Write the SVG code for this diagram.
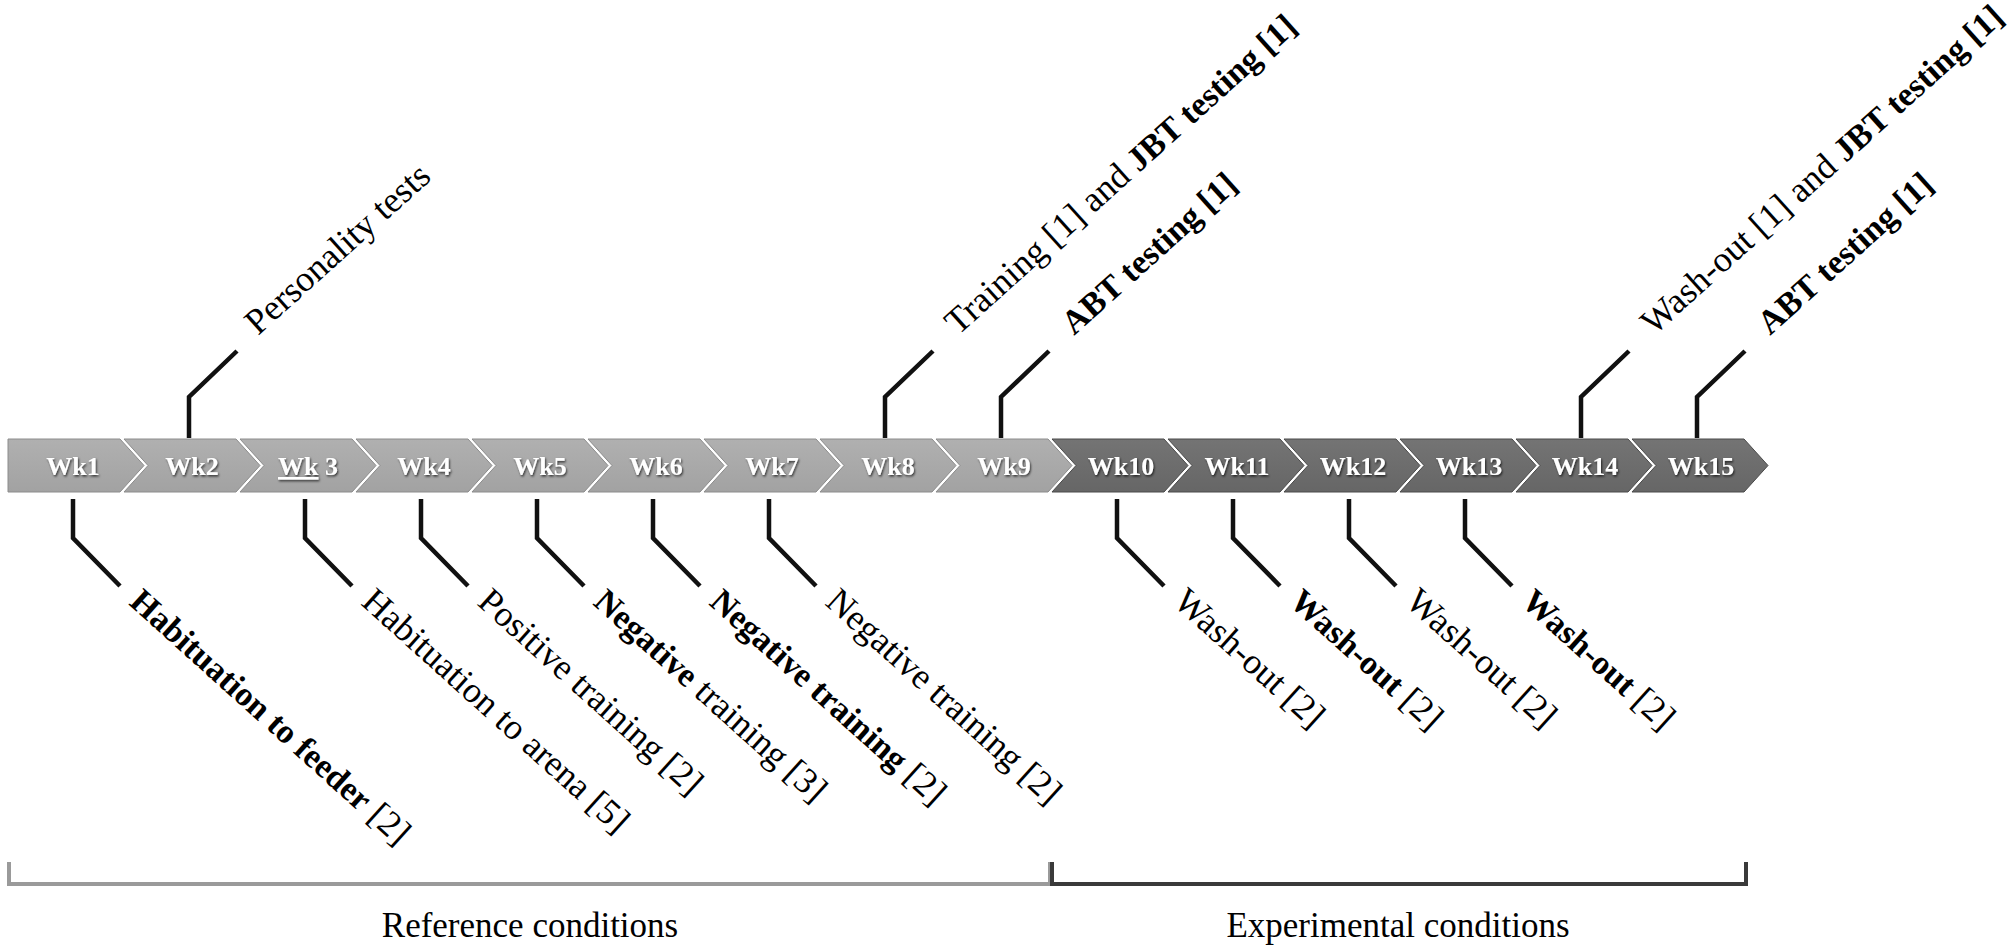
<svg xmlns="http://www.w3.org/2000/svg" width="2007" height="950" viewBox="0 0 2007 950">
<defs>
<linearGradient id="gLight" x1="0" y1="0" x2="0" y2="1">
<stop offset="0" stop-color="#b0b0b0"/><stop offset="1" stop-color="#a2a2a2"/>
</linearGradient>
<linearGradient id="gDark" x1="0" y1="0" x2="0" y2="1">
<stop offset="0" stop-color="#747474"/><stop offset="1" stop-color="#666666"/>
</linearGradient>
<filter id="sh" x="-20%" y="-30%" width="140%" height="160%">
<feDropShadow dx="1" dy="1.5" stdDeviation="1" flood-color="#000" flood-opacity="0.7"/>
</filter>
</defs>
<style>
.light{fill:url(#gLight);stroke:#8c8c8c;stroke-width:1}
.dark{fill:url(#gDark);stroke:#4a4a4a;stroke-width:1}
.wk{font-family:"Liberation Serif",serif;font-weight:bold;font-size:26px;fill:#fff;text-anchor:middle;filter:url(#sh)}
.lbl{font-family:"Liberation Serif",serif;font-size:36px;fill:#000}
.b{font-weight:bold;font-size:34px}
.call{fill:none;stroke:#111;stroke-width:4.5;stroke-linejoin:miter}
.cap{font-family:"Liberation Serif",serif;font-size:35px;fill:#000;text-anchor:middle}
</style>
<rect width="2007" height="950" fill="#fff"/>

<g id="wk1"><path class="light" d="M8,439 L120,439 L144,465.5 L120,492 L8,492 Z"/><text class="wk" x="73" y="475">Wk1</text></g>
<g id="wk2"><path class="light" d="M124,439 L236,439 L260,465.5 L236,492 L124,492 L148,465.5 Z"/><text class="wk" x="192" y="475">Wk2</text></g>
<g id="wk3"><path class="light" d="M240,439 L352,439 L376,465.5 L352,492 L240,492 L264,465.5 Z"/><text class="wk" x="308" y="475"><tspan text-decoration="underline">Wk</tspan> 3</text></g>
<g id="wk4"><path class="light" d="M356,439 L468,439 L492,465.5 L468,492 L356,492 L380,465.5 Z"/><text class="wk" x="424" y="475">Wk4</text></g>
<g id="wk5"><path class="light" d="M472,439 L584,439 L608,465.5 L584,492 L472,492 L496,465.5 Z"/><text class="wk" x="540" y="475">Wk5</text></g>
<g id="wk6"><path class="light" d="M588,439 L700,439 L724,465.5 L700,492 L588,492 L612,465.5 Z"/><text class="wk" x="656" y="475">Wk6</text></g>
<g id="wk7"><path class="light" d="M704,439 L816,439 L840,465.5 L816,492 L704,492 L728,465.5 Z"/><text class="wk" x="772" y="475">Wk7</text></g>
<g id="wk8"><path class="light" d="M820,439 L932,439 L956,465.5 L932,492 L820,492 L844,465.5 Z"/><text class="wk" x="888" y="475">Wk8</text></g>
<g id="wk9"><path class="light" d="M936,439 L1048,439 L1072,465.5 L1048,492 L936,492 L960,465.5 Z"/><text class="wk" x="1004" y="475">Wk9</text></g>
<g id="wk10"><path class="dark" d="M1052,439 L1164,439 L1188,465.5 L1164,492 L1052,492 L1076,465.5 Z"/><text class="wk" x="1121" y="475">Wk10</text></g>
<g id="wk11"><path class="dark" d="M1168,439 L1280,439 L1304,465.5 L1280,492 L1168,492 L1192,465.5 Z"/><text class="wk" x="1237" y="475">Wk11</text></g>
<g id="wk12"><path class="dark" d="M1284,439 L1396,439 L1420,465.5 L1396,492 L1284,492 L1308,465.5 Z"/><text class="wk" x="1353" y="475">Wk12</text></g>
<g id="wk13"><path class="dark" d="M1400,439 L1512,439 L1536,465.5 L1512,492 L1400,492 L1424,465.5 Z"/><text class="wk" x="1469" y="475">Wk13</text></g>
<g id="wk14"><path class="dark" d="M1516,439 L1628,439 L1652,465.5 L1628,492 L1516,492 L1540,465.5 Z"/><text class="wk" x="1585" y="475">Wk14</text></g>
<g id="wk15"><path class="dark" d="M1632,439 L1744,439 L1768,465.5 L1744,492 L1632,492 L1656,465.5 Z"/><text class="wk" x="1701" y="475">Wk15</text></g>

<g id="connectors">
<path class="call" d="M189,438 V397 L237,351"/>
<path class="call" d="M885,438 V397 L933,351"/>
<path class="call" d="M1001,438 V397 L1049,351"/>
<path class="call" d="M1581,438 V397 L1629,351"/>
<path class="call" d="M1697,438 V397 L1745,351"/>
<path class="call" d="M73,499 V538 L120,586"/>
<path class="call" d="M305,499 V538 L352,586"/>
<path class="call" d="M421,499 V538 L468,586"/>
<path class="call" d="M537,499 V538 L584,586"/>
<path class="call" d="M653,499 V538 L700,586"/>
<path class="call" d="M769,499 V538 L816,586"/>
<path class="call" d="M1117,499 V538 L1164,586"/>
<path class="call" d="M1233,499 V538 L1280,586"/>
<path class="call" d="M1349,499 V538 L1396,586"/>
<path class="call" d="M1465,499 V538 L1512,586"/>
</g>

<g id="top-labels">
<text class="lbl" transform="translate(258,336) rotate(-42)">Personality tests</text>
<text class="lbl" transform="translate(958,336) rotate(-42)">Training [1] and <tspan class="b">JBT testing [1]</tspan></text>
<text class="lbl b" transform="translate(1074,336) rotate(-42)">ABT testing [1]</text>
<text class="lbl" transform="translate(1654,336) rotate(-42)">Wash-out [1] and <tspan class="b">JBT testing [1]</tspan></text>
<text class="lbl b" transform="translate(1770,336) rotate(-42)">ABT testing [1]</text>
</g>

<g id="bottom-labels">
<text class="lbl" transform="translate(128,604) rotate(42)"><tspan class="b">Habituation to feeder</tspan> [2]</text>
<text class="lbl" transform="translate(360,604) rotate(42)">Habituation to arena [5]</text>
<text class="lbl" transform="translate(476,604) rotate(42)">Positive training [2]</text>
<text class="lbl" transform="translate(592,604) rotate(42)"><tspan class="b">Negative</tspan> training [3]</text>
<text class="lbl" transform="translate(708,604) rotate(42)"><tspan class="b">Negative training</tspan> [2]</text>
<text class="lbl" transform="translate(824,604) rotate(42)">Negative training [2]</text>
<text class="lbl" transform="translate(1172,604) rotate(42)">Wash-out [2]</text>
<text class="lbl" transform="translate(1288,604) rotate(42)"><tspan class="b">Wash-out</tspan> [2]</text>
<text class="lbl" transform="translate(1404,604) rotate(42)">Wash-out [2]</text>
<text class="lbl" transform="translate(1520,604) rotate(42)"><tspan class="b">Wash-out</tspan> [2]</text>
</g>

<g id="ref-bracket">
<path d="M9,862 V884 H1050 V862" fill="none" stroke="#9a9a9a" stroke-width="4"/>
<text class="cap" x="530" y="937">Reference conditions</text>
</g>
<g id="exp-bracket">
<path d="M1052,862 V884 H1746 V862" fill="none" stroke="#3a3a3a" stroke-width="4"/>
<text class="cap" x="1398" y="937">Experimental conditions</text>
</g>
</svg>
